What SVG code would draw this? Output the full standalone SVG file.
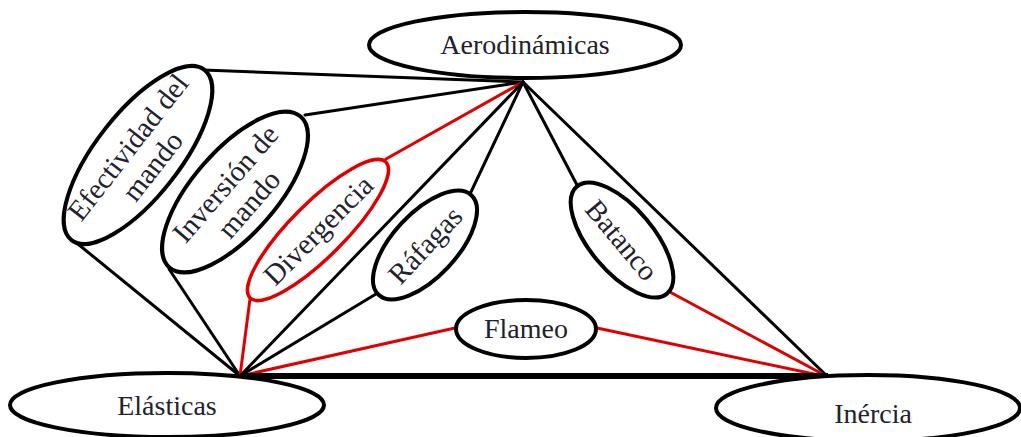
<svg xmlns="http://www.w3.org/2000/svg" width="1021" height="437" viewBox="0 0 1021 437">
<style>
.bk{stroke:#000;stroke-width:3;fill:none;stroke-linecap:round}
.rd{stroke:#e00000;stroke-width:3;fill:none;stroke-linecap:round}
.nb{fill:#fff;stroke:#000;stroke-width:4}
.nr{fill:#fff;stroke:#e00000;stroke-width:3.5}
.t{font-family:"Liberation Serif","Times New Roman",serif;font-size:28px;fill:#22222e;text-anchor:middle}
.tr{font-family:"Liberation Serif","Times New Roman",serif;font-size:29px;fill:#22222e;text-anchor:middle}
</style>
<rect width="1021" height="437" fill="#fff"/>
<g id="connectors">
<line class="bk" x1="203" y1="70" x2="523" y2="82"/>
<line class="bk" x1="305" y1="115" x2="523" y2="82"/>
<line class="rd" x1="386" y1="159" x2="523" y2="82"/>
<line class="bk" x1="240" y1="376" x2="523" y2="82"/>
<line class="bk" x1="470" y1="194" x2="523" y2="82"/>
<line class="bk" x1="577" y1="185" x2="523" y2="82"/>
<line class="bk" x1="828" y1="377" x2="523" y2="82"/>
<line class="bk" x1="73" y1="240" x2="240" y2="376"/>
<line class="bk" x1="169" y1="269" x2="240" y2="376"/>
<line class="rd" x1="250" y1="299" x2="240" y2="376"/>
<line class="bk" x1="376" y1="294" x2="240" y2="376"/>
<line class="rd" x1="455" y1="328" x2="240" y2="376"/>
<line class="rd" x1="597" y1="328" x2="828" y2="377"/>
<line class="rd" x1="668" y1="291" x2="828" y2="377"/>
<line stroke="#000" stroke-width="6" x1="240" y1="376" x2="828" y2="376"/>
</g>
<g id="aerodinamicas">
<ellipse class="nb" cx="525" cy="45" rx="156" ry="33"/>
<text class="t" x="525" y="54">Aerodinámicas</text>
</g>
<g id="elasticas">
<ellipse class="nb" cx="167" cy="405" rx="157" ry="32"/>
<text class="t" x="167" y="415">Elásticas</text>
</g>
<g id="inercia">
<ellipse class="nb" cx="868" cy="408" rx="152" ry="33"/>
<text class="t" x="873" y="423">Inércia</text>
</g>
<g id="efectividad" transform="translate(138,155) rotate(-52)">
<ellipse class="nb" cx="0" cy="0" rx="108" ry="42"/>
<text class="tr" x="0" y="-3">Efectividad del</text>
<text class="tr" x="0" y="28">mando</text>
</g>
<g id="inversion" transform="translate(235,192) rotate(-49)">
<ellipse class="nb" cx="0" cy="0" rx="100" ry="42"/>
<text class="tr" x="0" y="-3">Inversión de</text>
<text class="tr" x="0" y="28">mando</text>
</g>
<g id="divergencia" transform="translate(318,230) rotate(-45)">
<ellipse class="nr" cx="0" cy="0" rx="96" ry="27"/>
<text class="tr" x="0" y="10">Divergencia</text>
</g>
<g id="rafagas" transform="translate(425,245) rotate(-47)">
<ellipse class="nb" cx="0" cy="0" rx="68" ry="32"/>
<text class="tr" x="0" y="10">Ráfagas</text>
</g>
<g id="batanco" transform="translate(622,240) rotate(50)">
<ellipse class="nb" cx="0" cy="0" rx="70" ry="32"/>
<text class="tr" x="0" y="10">Batanco</text>
</g>
<g id="flameo">
<ellipse class="nb" cx="526" cy="329" rx="70" ry="29"/>
<text class="t" x="526" y="338">Flameo</text>
</g>
</svg>
